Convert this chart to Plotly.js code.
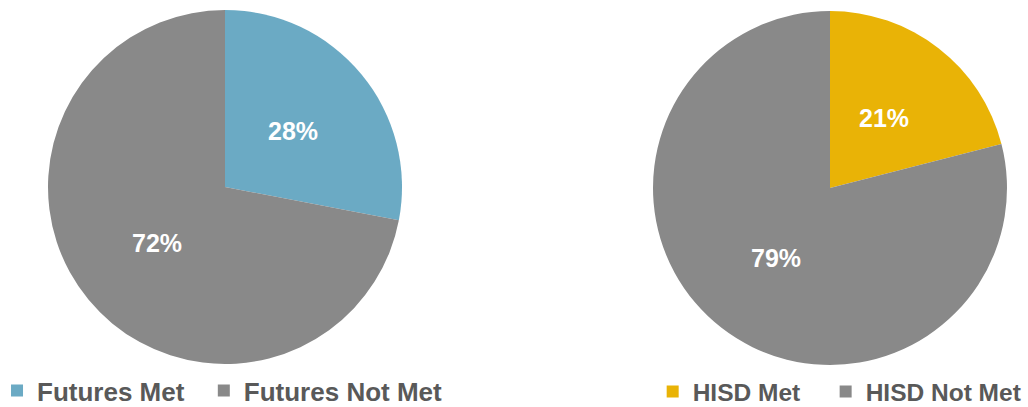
<!DOCTYPE html>
<html>
<head>
<meta charset="utf-8">
<script src="https://cdn.plot.ly/plotly-3.0.1.min.js"></script>
<style>html,body{margin:0;padding:0;background:#fff;}#chart{width:1028px;height:407px;}</style>
</head>
<body>
<div id="chart"></div>
<script>
const futuresLabels = ["Futures Met", "Futures Not Met"];
const futuresValues = [28, 72];
const hisdLabels = ["HISD Met", "HISD Not Met"];
const hisdValues = [21, 79];
const futuresColors = ["#6BAAC4", "#898989"];
const hisdColors = ["#E9B306", "#898989"];

const W = 1028, H = 407;
const fontFam = "Liberation Sans, Arial, sans-serif";

// pie geometry (pixels) -> domains; pad = extra spacing between legend entries
const pies = [
  {labels: futuresLabels, values: futuresValues, colors: futuresColors, cx: 225, cy: 187, r: 177, legend: "legend", pad: "\u00a0\u00a0"},
  {labels: hisdLabels, values: hisdValues, colors: hisdColors, cx: 830, cy: 188, r: 177, legend: "legend2", pad: "\u00a0\u00a0\u00a0"}
];

const traces = [];
const annotations = [];
pies.forEach(function(p) {
  traces.push({
    type: "pie",
    sort: false,
    direction: "clockwise",
    rotation: 0,
    labels: p.labels.map(function(l, i) { return i < p.labels.length - 1 ? l + p.pad : l; }),
    values: p.values,
    textinfo: "none",
    marker: {colors: p.colors, line: {width: 0}},
    domain: {x: [(p.cx - p.r) / W, (p.cx + p.r) / W], y: [1 - (p.cy + p.r) / H, 1 - (p.cy - p.r) / H]},
    legend: p.legend
  });
  const total = p.values.reduce(function(a, b) { return a + b; }, 0);
  let cum = 0;
  p.values.forEach(function(v) {
    const f = (cum + v / 2) / total;
    cum += v;
    const th = 2 * Math.PI * f;
    const px = p.cx + 0.5 * p.r * Math.sin(th);
    const py = p.cy - 0.5 * p.r * Math.cos(th);
    annotations.push({
      xref: "paper", yref: "paper",
      x: px / W, y: 1 - py / H,
      xanchor: "center", yanchor: "middle",
      showarrow: false,
      text: Math.round(v / total * 100) + "%",
      font: {family: fontFam, size: 25, color: "#ffffff", weight: "bold"}
    });
  });
});

const layout = {
  width: W, height: H,
  margin: {l: 0, r: 0, t: 0, b: 0, autoexpand: false},
  paper_bgcolor: "#ffffff",
  showlegend: true,
  annotations: annotations,
  legend: {orientation: "h", x: -0.0029, xanchor: "left", y: -0.0176, yanchor: "bottom",
    font: {family: fontFam, size: 26, color: "#595959", weight: "bold"}, itemwidth: 30},
  legend2: {orientation: "h", x: 0.6349, xanchor: "left", y: -0.0176, yanchor: "bottom",
    font: {family: fontFam, size: 24.5, color: "#595959", weight: "bold"}, itemwidth: 30}
};

Plotly.newPlot("chart", traces, layout, {displayModeBar: false, staticPlot: true});
</script>
</body>
</html>
